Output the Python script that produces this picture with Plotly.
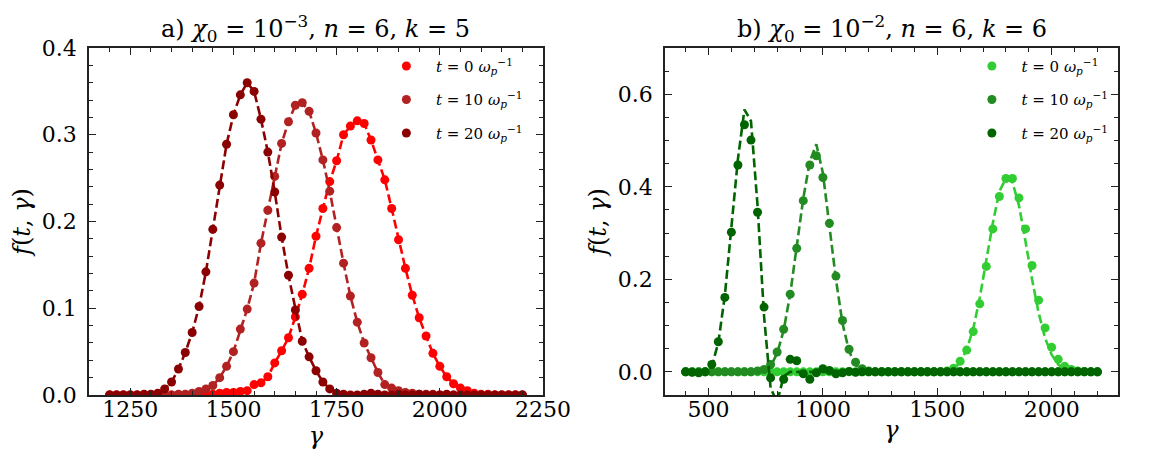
import plotly.graph_objects as go
from plotly.subplots import make_subplots

# ---- panel a) chi0 = 1e-3 : gamma grid and f(t, gamma) samples
gamma_a = [1200.0, 1216.7, 1233.3, 1250.0, 1266.7, 1283.3, 1300.0, 1316.7, 1333.3, 1350.0,
           1366.7, 1383.3, 1400.0, 1416.7, 1433.3, 1450.0, 1466.7, 1483.3, 1500.0, 1516.7,
           1533.3, 1550.0, 1566.7, 1583.3, 1600.0, 1616.7, 1633.3, 1650.0, 1666.7, 1683.3,
           1700.0, 1716.7, 1733.3, 1750.0, 1766.7, 1783.3, 1800.0, 1816.7, 1833.3, 1850.0,
           1866.7, 1883.3, 1900.0, 1916.7, 1933.3, 1950.0, 1966.7, 1983.3, 2000.0, 2016.7,
           2033.3, 2050.0, 2066.7, 2083.3, 2100.0, 2116.7, 2133.3, 2150.0, 2166.7, 2183.3,
           2200.0]
fa_t0 = [0, 0, 0, 0, 0, 0, 0, 0, 0, 0, 0, 0, 0, 0, 0.001, 0.001,
         0.002, 0.003, 0.003, 0.004, 0.005,
         0.012, 0.014, 0.021, 0.037, 0.051, 0.066, 0.090, 0.116, 0.146, 0.183,
         0.215, 0.246, 0.270, 0.300, 0.310, 0.316, 0.313, 0.294, 0.271, 0.248,
         0.215, 0.179, 0.146, 0.115, 0.089, 0.068, 0.048, 0.033, 0.021, 0.013,
         0.008, 0.005, 0.002, 0.001, 0.001, 0, 0, 0, 0, 0]
fa_t10 = [0, 0, 0, 0, 0, 0, 0, 0, 0, 0, 0.001, 0.001,
          0.002, 0.004, 0.007, 0.011, 0.020, 0.033, 0.050, 0.076, 0.099,
          0.129, 0.175, 0.213, 0.252, 0.290, 0.315, 0.334, 0.337, 0.327, 0.302,
          0.271, 0.235, 0.193, 0.152, 0.114, 0.084, 0.060, 0.043, 0.026, 0.012,
          0.008, 0.005, 0.003, 0.002, 0.001, 0.001, 0.001, 0, 0, 0,
          0, 0, 0, 0, 0, 0, 0, 0, 0, 0]
fa_t20 = [0, 0, 0, 0, 0, 0.001, 0.001,
          0.002, 0.007, 0.015, 0.030,
          0.049, 0.072, 0.102, 0.142, 0.191, 0.242, 0.289, 0.323, 0.346, 0.360,
          0.350, 0.318, 0.280, 0.234, 0.182, 0.138, 0.098, 0.062, 0.044, 0.028,
          0.015, 0.007, 0.002, 0.001, 0, 0, 0.001, 0.002, 0.001, 0,
          0, 0.001, 0, 0, 0.001, 0, 0, 0, 0.001, 0,
          0, 0, 0, 0, 0, 0, 0, 0, 0, 0]

# ---- panel b) chi0 = 1e-2
gamma_b = [400.0, 428.6, 457.1, 485.7, 514.3, 542.9, 571.4, 600.0, 628.6, 657.1,
           685.7, 714.3, 742.9, 771.4, 800.0, 828.6, 857.1, 885.7, 914.3, 942.9,
           971.4, 1000.0, 1028.6, 1057.1, 1085.7, 1114.3, 1142.9, 1171.4, 1200.0, 1228.6,
           1257.1, 1285.7, 1314.3, 1342.9, 1371.4, 1400.0, 1428.6, 1457.1, 1485.7, 1514.3,
           1542.9, 1571.4, 1600.0, 1628.6, 1657.1, 1685.7, 1714.3, 1742.9, 1771.4, 1800.0,
           1828.6, 1857.1, 1885.7, 1914.3, 1942.9, 1971.4, 2000.0, 2028.6, 2057.1, 2085.7,
           2114.3, 2142.9, 2171.4, 2200.0]
fb_t0 = [0, 0, 0, 0, 0, 0, 0, 0, 0, 0,
         0, 0, 0, 0, 0, 0, 0, 0, 0, 0,
         0, 0, 0, 0, 0, 0, 0, 0, 0, 0,
         0, 0, 0, 0, 0, 0, 0, 0, 0, 0,
         0.002, 0.008, 0.023, 0.047, 0.087, 0.147, 0.228, 0.309, 0.379, 0.418,
         0.418, 0.376, 0.309, 0.230, 0.155, 0.095, 0.053, 0.027, 0.012, 0.005,
         0.002, 0.001, 0, 0]
fb_t10 = [0, 0, 0, 0, 0, 0, 0, 0, 0, 0,
          0, 0.002, 0.005, 0.016, 0.043, 0.092, 0.168, 0.267, 0.370, 0.447,
          0.467, 0.420, 0.321, 0.207, 0.111, 0.049, 0.021, 0.007, 0.002, 0,
          0, 0, 0, 0, 0, 0, 0, 0, 0, 0,
          0, 0, 0, 0, 0, 0, 0, 0, 0, 0,
          0, 0, 0, 0, 0, 0, 0, 0, 0, 0,
          0, 0, 0, 0]
fb_t20 = [0, -0.001, -0.002, 0, 0.016, 0.065, 0.161, 0.302, 0.447, 0.534,
          0.501, 0.345, 0.140, -0.013, -0.06, -0.016, 0.027, 0.024, -0.004, -0.016,
          -0.002, 0.007, 0.003, -0.004, -0.002, 0.001, -0.001, 0, 0, 0,
          0, 0, 0, 0, 0, 0, 0, 0, 0, 0,
          0, 0, 0, 0, 0, 0, 0, 0, 0, 0,
          0, 0, 0, 0, 0, 0, 0, 0, 0, 0,
          0, 0, 0, 0]
# dashed model curves for panel b)
mb_t0 = [0, 0, 0, 0, 0, 0, 0, 0, 0, 0,
         0, 0, 0, 0, 0, 0, 0, 0, 0, 0,
         0, 0, 0, 0, 0, 0, 0, 0, 0, 0,
         0, 0, 0, 0, 0, 0, 0, 0, 0, 0,
         0.001, 0.006, 0.020, 0.048, 0.093, 0.160, 0.243, 0.322, 0.390, 0.418,
         0.410, 0.360, 0.282, 0.200, 0.128, 0.073, 0.037, 0.016, 0.006, 0.002,
         0, 0, 0, 0]
mb_t10 = [0, 0, 0, 0, 0, 0, 0, 0, 0, 0,
          0, 0, 0.003, 0.012, 0.040, 0.090, 0.168, 0.270, 0.375, 0.455,
          0.492, 0.430, 0.318, 0.200, 0.105, 0.045, 0.015, 0.004, 0.001, 0,
          0, 0, 0, 0, 0, 0, 0, 0, 0, 0,
          0, 0, 0, 0, 0, 0, 0, 0, 0, 0,
          0, 0, 0, 0, 0, 0, 0, 0, 0, 0,
          0, 0, 0, 0]
mb_t20 = [0, 0, 0, 0, 0.012, 0.063, 0.165, 0.310, 0.460, 0.567,
          0.542, 0.360, 0.120, -0.035, -0.065, -0.010, 0, 0, 0, 0,
          0, 0, 0, 0, 0, 0, 0, 0, 0, 0,
          0, 0, 0, 0, 0, 0, 0, 0, 0, 0,
          0, 0, 0, 0, 0, 0, 0, 0, 0, 0,
          0, 0, 0, 0, 0, 0, 0, 0, 0, 0,
          0, 0, 0, 0]

labels = ["<i>t</i> = 0 <i>ω</i><sub><i>p</i></sub><sup>−1</sup>",
          "<i>t</i> = 10 <i>ω</i><sub><i>p</i></sub><sup>−1</sup>",
          "<i>t</i> = 20 <i>ω</i><sub><i>p</i></sub><sup>−1</sup>"]
reds = ["#ff0000", "#b22222", "#8b0000"]
greens = ["#32cd32", "#228b22", "#006400"]

FONT = "DejaVu Serif"
TICK = dict(family=FONT, size=22, color="black")
LABEL = dict(family=FONT, size=24, color="black")
pad = "\u00a0" * 2

fig = make_subplots(rows=1, cols=2, horizontal_spacing=0.12)

panel_a = [(fa_t0, fa_t0), (fa_t10, fa_t10), (fa_t20, fa_t20)]
for i, (pts, curve) in enumerate(panel_a):
    fig.add_trace(go.Scatter(x=gamma_a, y=pts, mode="markers", name=pad + labels[i],
                             marker=dict(color=reds[i], size=9), legend="legend",
                             legendgroup="a%d" % i), row=1, col=1)
    fig.add_trace(go.Scatter(x=gamma_a, y=curve, mode="lines", showlegend=False,
                             line=dict(color=reds[i], width=2.6, dash="9px,4px")), row=1, col=1)

panel_b = [(fb_t0, mb_t0), (fb_t10, mb_t10), (fb_t20, mb_t20)]
for i, (pts, curve) in enumerate(panel_b):
    fig.add_trace(go.Scatter(x=gamma_b, y=pts, mode="markers", name=pad + labels[i],
                             marker=dict(color=greens[i], size=9), legend="legend2",
                             legendgroup="b%d" % i), row=1, col=2)
    fig.add_trace(go.Scatter(x=gamma_b, y=curve, mode="lines", showlegend=False,
                             line=dict(color=greens[i], width=2.6, dash="9px,4px")), row=1, col=2)

common = dict(showline=True, linecolor="#222222", linewidth=1.6, mirror="allticks",
              ticks="inside", ticklen=7, tickwidth=1.3, tickcolor="#222222",
              showgrid=False, zeroline=False, tickfont=TICK)
fig.update_xaxes(common, ticklabelstandoff=-6)
fig.update_yaxes(common, ticklabelstandoff=6)

fig.update_xaxes(domain=[0, 0.4412], range=[1150, 2250], tick0=1250, dtick=250,
                 minor=dict(ticks="inside", ticklen=4, tickwidth=1, tickcolor="#222222", dtick=50),
                 title=dict(text="<i>γ</i>", font=LABEL, standoff=0),
                 row=1, col=1)
fig.update_yaxes(range=[0, 0.4], dtick=0.1, tickformat=".1f",
                 minor=dict(ticks="inside", ticklen=4, tickwidth=1, tickcolor="#222222", dtick=0.02),
                 title=dict(text="<i>f</i>(<i>t</i>, <i>γ</i>)", font=LABEL, standoff=4),
                 row=1, col=1)
fig.update_xaxes(domain=[0.5598, 1], range=[310, 2290], tick0=500, dtick=500,
                 minor=dict(ticks="inside", ticklen=4, tickwidth=1, tickcolor="#222222", dtick=100),
                 title=dict(text="<i>γ</i>", font=LABEL, standoff=0),
                 row=1, col=2)
fig.update_yaxes(range=[-0.05, 0.7], tick0=0, dtick=0.2, tickformat=".1f",
                 minor=dict(ticks="inside", ticklen=4, tickwidth=1, tickcolor="#222222", dtick=0.05),
                 title=dict(text="<i>f</i>(<i>t</i>, <i>γ</i>)", font=LABEL, standoff=4),
                 row=1, col=2)

legend_style = dict(font=dict(size=15, family=FONT, color="black"), bgcolor="rgba(0,0,0,0)",
                    borderwidth=0, tracegroupgap=11, xanchor="left", yanchor="top")
fig.update_layout(
    width=1149, height=456,
    margin=dict(l=81, r=11, t=40, b=69),
    plot_bgcolor="white", paper_bgcolor="white",
    font=dict(family=FONT, size=22, color="black"),
    legend=dict(legend_style, x=0.289, y=0.995),
    legend2=dict(legend_style, x=0.858, y=0.995),
    annotations=[
        dict(text="a) <i>χ</i><sub>0</sub> = 10<sup>−3</sup>, <i>n</i> = 6, <i>k</i> = 5",
             x=0.2206, y=1, xref="paper", yref="paper", xanchor="center", yanchor="bottom",
             showarrow=False, font=dict(size=24, family=FONT, color="black")),
        dict(text="b) <i>χ</i><sub>0</sub> = 10<sup>−2</sup>, <i>n</i> = 6, <i>k</i> = 6",
             x=0.7799, y=1, xref="paper", yref="paper", xanchor="center", yanchor="bottom",
             showarrow=False, font=dict(size=24, family=FONT, color="black")),
    ],
)

fig.write_html("out.html")
